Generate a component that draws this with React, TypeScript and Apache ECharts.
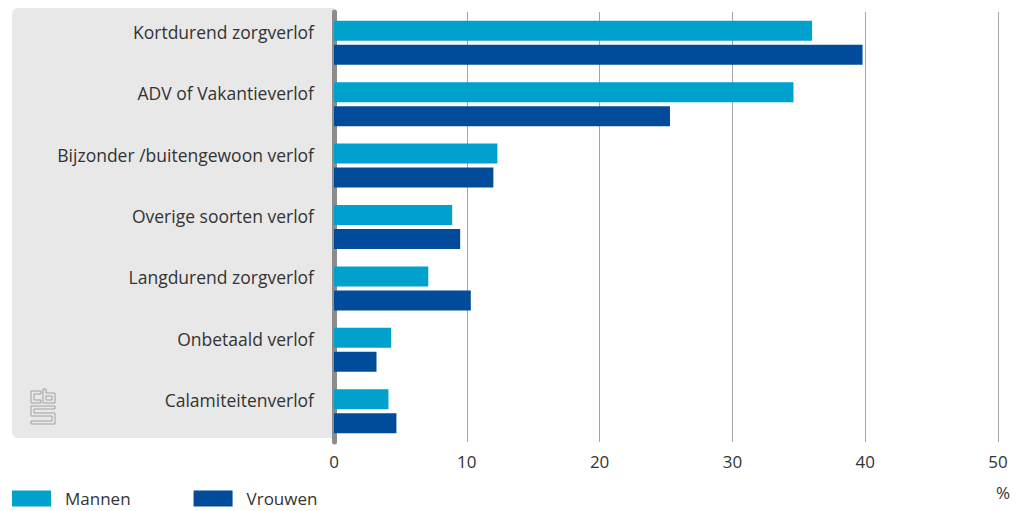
import React, { useEffect, useRef } from "react";
import * as echarts from "echarts";

const categories = [
  "Kortdurend zorgverlof",
  "ADV of Vakantieverlof",
  "Bijzonder /buitengewoon verlof",
  "Overige soorten verlof",
  "Langdurend zorgverlof",
  "Onbetaald verlof",
  "Calamiteitenverlof",
];
const mannen = [36.0, 34.6, 12.3, 8.9, 7.1, 4.3, 4.1];
const vrouwen = [39.8, 25.3, 12.0, 9.5, 10.3, 3.2, 4.7];
const xTicks = { min: 0, max: 50, interval: 10 };

const LOGO_D =
  "M2 2 H12 V5 H5 V11 H12 V14 H2 Z " +
  "M14 0 H17 V4 H26 V14 H14 Z M17 7 H23 V11 H17 Z " +
  "M2 17 H26 V20 H5 V24 H26 V35 H2 V32 H23 V27 H2 Z";

let registered = false;

export default function App() {
  const ref = useRef<HTMLDivElement>(null);
  useEffect(() => {
    if (!registered) {
      echarts.graphic.registerShape("logo", echarts.graphic.extendPath(LOGO_D, {}) as any);
      registered = true;
    }
    const chart = echarts.init(ref.current!, null, { renderer: "svg" });
    const font = "'Open Sans', sans-serif";
    chart.setOption({
      animation: false,
      textStyle: { fontFamily: font },
      grid: { left: 334, right: 23, top: 12, height: 430, containLabel: false },
      legend: {
        left: 7,
        top: 485,
        itemWidth: 39,
        itemHeight: 16,
        itemGap: 63,
        icon: "rect",
        textStyle: { fontSize: 17, color: "#333", fontFamily: font, padding: [0, 0, 0, 9] },
        data: ["Mannen", "Vrouwen"],
      },
      graphic: [
        {
          type: "rect",
          z: -10,
          shape: { x: 12, y: 8, width: 322, height: 430, r: [6, 0, 0, 6] },
          style: { fill: "#e8e8e8" },
        },
        {
          type: "logo",
          x: 29,
          y: 389,
          z: -5,
          style: { fill: "none", stroke: "#a0a0a0", lineWidth: 1 },
        },
        {
          type: "text",
          x: 1003,
          y: 492,
          style: {
            text: "%",
            fontSize: 17,
            fill: "#333",
            fontFamily: font,
            align: "center",
            verticalAlign: "middle",
          },
        },
      ],
      xAxis: {
        type: "value",
        min: xTicks.min,
        max: xTicks.max,
        interval: xTicks.interval,
        axisLine: { show: false },
        axisTick: { show: false },
        splitLine: { show: true, lineStyle: { color: "#a6a6a6", width: 1 } },
        axisLabel: { fontSize: 17, color: "#333", margin: 11, fontFamily: font },
      },
      yAxis: {
        type: "category",
        inverse: true,
        data: categories,
        axisLine: { show: true, lineStyle: { color: "#8c8c8c", width: 5 } },
        axisTick: { show: false },
        axisLabel: {
          fontSize: 17.5,
          color: "#333",
          margin: 20,
          fontFamily: font,
          verticalAlign: "bottom",
          lineHeight: 22,
        },
      },
      series: [
        {
          name: "Mannen",
          type: "bar",
          data: mannen,
          barWidth: 20,
          barGap: "20%",
          itemStyle: { color: "#00a1cd" },
        },
        {
          name: "Vrouwen",
          type: "bar",
          data: vrouwen,
          barWidth: 20,
          barGap: "20%",
          itemStyle: { color: "#004c9a" },
        },
      ],
    });
    return () => chart.dispose();
  }, []);
  return <div ref={ref} style={{ width: 1021, height: 511, position: "absolute", left: 0, top: 0 }} />;
}
